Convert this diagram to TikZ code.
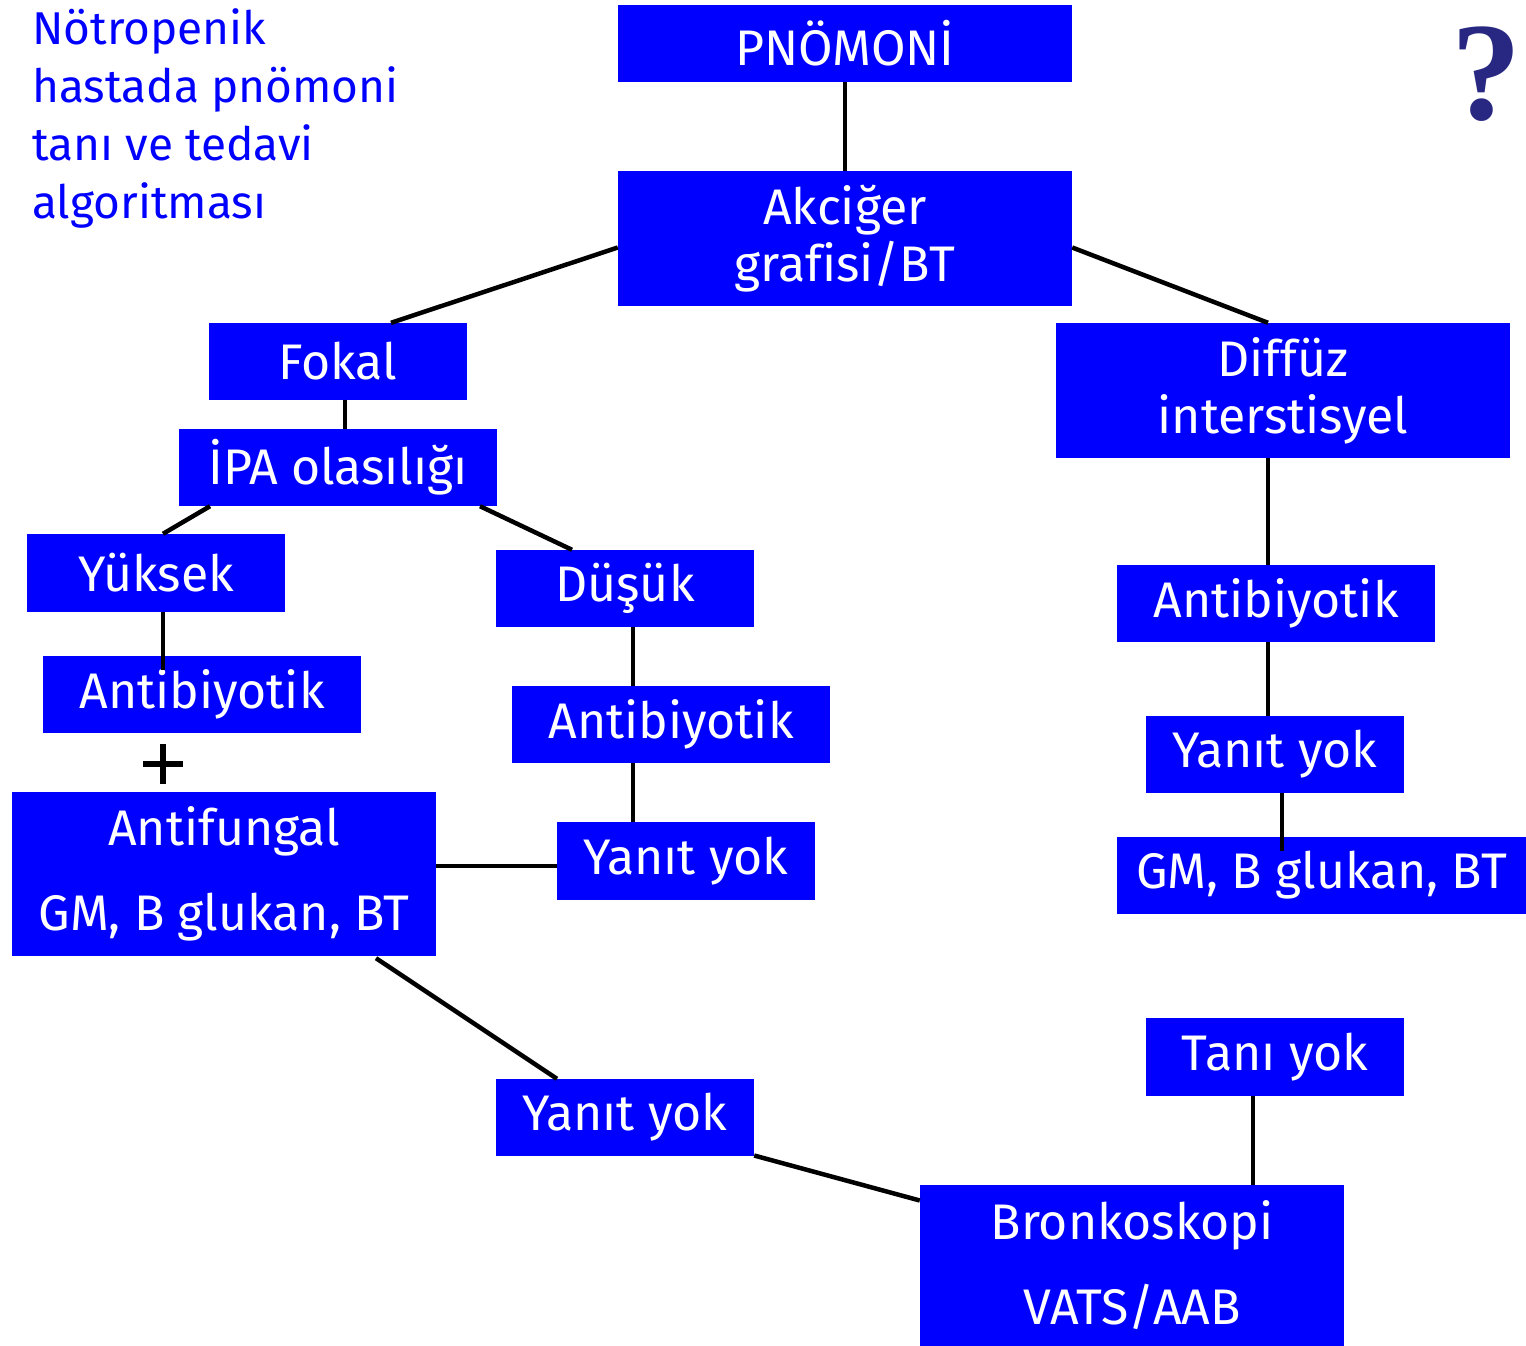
\documentclass[tikz,border=0pt]{standalone}
\usepackage{fontspec}
\setmainfont[Ligatures=NoCommon]{Fira Sans}
\newfontfamily\qfont{Liberation Serif}
\usetikzlibrary{calc}
\definecolor{bxblue}{RGB}{0,0,255}
\definecolor{qcol}{RGB}{40,40,130}
\tikzset{
  bx/.style={fill=bxblue, text=white, inner sep=0pt, align=center,
    font=\fontsize{50}{57}\selectfont},
  bxw/.style={bx, font=\fontsize{50}{85}\selectfont},
  ln/.style={line width=4.5pt, black},
}
\begin{document}
\begin{tikzpicture}[x=1pt,y=-1pt]
\useasboundingbox (0,0) rectangle (1526,1346);
\fill[white] (0,0) rectangle (1526,1346);
% title
\node[anchor=north west, text=bxblue, align=left, inner sep=0pt,
  font=\fontsize{46}{58}\selectfont] (title) at (32,8)
  {Nötropenik\\hastada pnömoni\\tanı ve tedavi\\algoritması};
\node[text=qcol, inner sep=0pt, font=\qfont\bfseries\fontsize{140}{140}\selectfont] (qm) at (1486,74) {?};
% boxes
\node[bx, minimum width=454, minimum height=77] (pn) at (845,43.5) {PNÖMONİ};
\node[bx, minimum width=454, minimum height=135] (ak) at (845,238.5) {Akciğer\\grafisi/BT};
\node[bx, minimum width=258, minimum height=77] (fo) at (338,361.5) {Fokal};
\node[bx, minimum width=318, minimum height=77] (ipa) at (338,467.5) {İPA olasılığı};
\node[bx, minimum width=258, minimum height=78] (yu) at (156,573) {Yüksek};
\node[bx, minimum width=258, minimum height=77] (du) at (625,588.5) {Düşük};
\node[bx, minimum width=318, minimum height=77] (abl) at (202,694.5) {Antibiyotik};
\coordinate (plus) at (163,764);
\draw[line width=5.5pt] ($(plus)+(-20,0)$) -- ($(plus)+(20,0)$)
  ($(plus)+(0,-20)$) -- ($(plus)+(0,20)$);
\node[bxw, minimum width=424, minimum height=164] (af) at (224,874) {Antifungal\\GM, B glukan, BT};
\node[bx, minimum width=318, minimum height=77] (abm) at (671,724.5) {Antibiyotik};
\node[bx, minimum width=258, minimum height=78] (yym) at (686,861) {Yanıt yok};
\node[bx, minimum width=454, minimum height=135] (di) at (1283,390.5) {Diffüz\\interstisyel};
\node[bx, minimum width=318, minimum height=77] (abr) at (1276,603.5) {Antibiyotik};
\node[bx, minimum width=258, minimum height=77] (yyr) at (1275,754.5) {Yanıt yok};
\node[bx, minimum width=409, minimum height=77] (gmr) at (1321.5,875.5) {GM, B glukan, BT};
\node[bx, minimum width=258, minimum height=78] (ty) at (1275,1057) {Tanı yok};
\node[bx, minimum width=258, minimum height=77] (yyb) at (625,1117.5) {Yanıt yok};
\node[bxw, minimum width=424, minimum height=161] (br) at (1132,1265.5) {Bronkoskopi\\VATS/AAB};
% connectors
\draw[ln] (pn.south) -- (ak.north);
\draw[ln] ($(ak.west)+(0,9)$) -- ($(fo.north)+(53,0)$);
\draw[ln] ($(ak.east)+(0,9)$) -- ($(di.north)+(-15,0)$);
\draw[ln] ($(fo.south)+(7,0)$) -- ($(ipa.north)+(7,0)$);
\draw[ln] ($(ipa.south)+(-128,0)$) -- ($(yu.north)+(7,0)$);
\draw[ln] ($(ipa.south)+(142,0)$) -- ($(du.north)+(-53,0)$);
\draw[ln] ($(yu.south)+(7,0)$) -- ($(abl.north)+(-39,14)$);
\draw[ln] ($(du.south)+(8,0)$) -- ($(abm.north)+(-38,0)$);
\draw[ln] ($(abm.south)+(-38,0)$) -- ($(yym.north)+(-53,0)$);
\draw[ln] ($(yym.west)+(0,5)$) -- ($(af.east)+(0,-8)$);
\draw[ln] ($(af.south)+(152,2)$) -- ($(yyb.north)+(-68,0)$);
\draw[ln] ($(yyb.east)+(0,38)$) -- ($(br.west)+(0,-65)$);
\draw[ln] ($(ty.south)+(-22,0)$) -- ($(br.north)+(121,0)$);
\draw[ln] ($(di.south)+(-15,0)$) -- ($(abr.north)+(-8,0)$);
\draw[ln] ($(abr.south)+(-8,0)$) -- ($(yyr.north)+(-7,0)$);
\draw[ln] ($(yyr.south)+(7,0)$) -- ($(gmr.north)+(-39.5,14)$);
\end{tikzpicture}
\end{document}
